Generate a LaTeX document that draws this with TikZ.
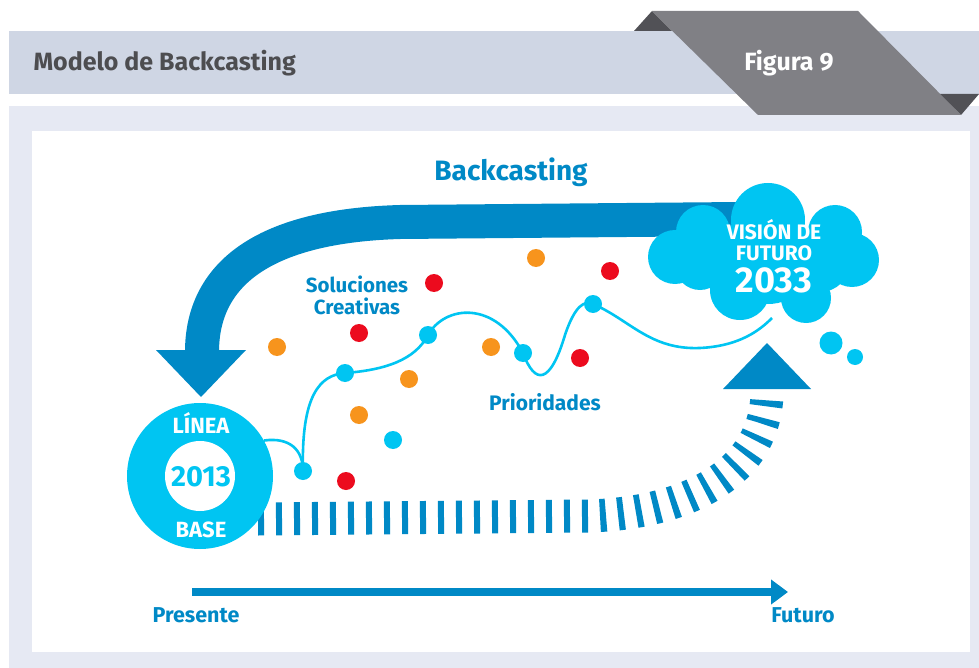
\documentclass[tikz,border=0pt]{standalone}
\usepackage{fontspec}
\setmainfont{Fira Sans}
\usetikzlibrary{positioning,arrows.meta}
\definecolor{bandgrey}{HTML}{CFD6E4}
\definecolor{panelgrey}{HTML}{E6E9F3}
\definecolor{tabgrey}{HTML}{808085}
\definecolor{tabdark}{HTML}{515156}
\definecolor{titlegrey}{HTML}{4D4D50}
\definecolor{deepblue}{HTML}{0089C6}
\definecolor{skyblue}{HTML}{00C5F2}
\definecolor{dotorange}{HTML}{F7941D}
\definecolor{dotred}{HTML}{EC0B1E}
\tikzset{
  blob/.style={circle,fill=#1,inner sep=0pt,minimum size=18pt},
  tag/.style={font=\bfseries\fontsize{#1}{22}\selectfont,text=deepblue,align=center,inner sep=0pt},
  whitetag/.style={font=\bfseries\fontsize{#1}{21}\selectfont,text=white,align=center,inner sep=0pt},
  wave/.style={draw=skyblue,line width=2.6pt},
}

\begin{document}
\begin{tikzpicture}[x=1pt,y=-1pt]
	\useasboundingbox (0,0) rectangle (979,668);
	% frame and header
	\fill[panelgrey] (9,106) rectangle (979,668);
	\fill[white] (32,131) rectangle (970,652);
	\fill[bandgrey] (9,31) rectangle (979,94);
	\fill[tabdark] (634,31) -- (652,11) -- (672,31) -- cycle;
	\fill[tabdark] (939,94) -- (979,94) -- (961,115) -- cycle;
	\fill[tabgrey] (652,11) -- (858,11) -- (961,115) -- (758,115) -- cycle;
	\node[anchor=west,font=\bfseries\fontsize{25}{25}\selectfont,text=titlegrey] (title) at (30,63) {Modelo de Backcasting};
	\node[font=\bfseries\fontsize{25}{25}\selectfont,text=white] (fig) at (789,63) {Figura 9};

	% backcasting arrow
	\coordinate (bandend) at (740,219);
	\coordinate (shaftend) at (202,352);
	\draw[deepblue,line width=34pt] (bandend) -- (400,222) .. controls (262,226) and (202,275) .. (shaftend);
	\fill[deepblue] (156,350) -- (246,350) -- (201,397) -- cycle;
	\node[tag=28] (back) at (511,172) {Backcasting};

	% dashed path to the future
	\coordinate (dashstart) at (258,519);
	\coordinate (dashend) at (767,391);
	\draw[deepblue,line width=33pt,dash pattern=on 6pt off 12pt] (dashstart) -- (590,516) .. controls (700,512) and (767,465) .. (dashend);
	\fill[deepblue] (723,389) -- (811,389) -- (767,343) -- cycle;

	% dots
	\node[blob=skyblue] (p1) at (303,471) {};
	\node[blob=skyblue] (p2) at (345,373) {};
	\node[blob=skyblue] (p3) at (428,335) {};
	\node[blob=skyblue] (p4) at (523,353) {};
	\node[blob=skyblue] (p5) at (593,304) {};
	\node[blob=skyblue] (p6) at (393,440) {};
	\node[blob=dotorange] (o1) at (277,347) {};
	\node[blob=dotorange] (o2) at (409,379) {};
	\node[blob=dotorange] (o3) at (491,347) {};
	\node[blob=dotorange] (o4) at (359,415) {};
	\node[blob=dotorange] (o5) at (536,258) {};
	\node[blob=dotred] (r1) at (434,283) {};
	\node[blob=dotred] (r2) at (359,333) {};
	\node[blob=dotred] (r3) at (610,271) {};
	\node[blob=dotred] (r4) at (580,358) {};
	\node[blob=dotred] (r5) at (346,481) {};

	% cloud
	\coordinate (vision) at (768,256);
	\begin{scope}[skyblue]
		\fill (675,257) circle (27);
		\fill (703,232) circle (27);
		\fill (768,220) circle (37);
		\fill (835,232) circle (27);
		\fill (852,260) circle (27);
		\fill (806,298) circle (25);
		\fill (740,290) circle (30);
		\fill (700,265) circle (25);
		\fill (vision) circle (48);
		\fill (820,262) circle (30);
		\fill (831,343) circle (11.5);
		\fill (855,357) circle (8);
	\end{scope}
	\node[whitetag=21] (v1) at (774,240) {VISIÓN DE\\FUTURO};
	\node[whitetag=36] (v3) at (774,280) {2033};

	% base line circle
	\node[circle,fill=skyblue,minimum size=146pt,inner sep=0pt] (base) at (200,476) {};
	\node[circle,fill=white,minimum size=70pt,inner sep=0pt] (core) at (base) {};
	\node[whitetag=22] (b1) at (201,423) {LÍNEA};
	\node[font=\bfseries\fontsize{29}{29}\selectfont,text=skyblue,inner sep=0pt] (b2) at (201,477) {2013};
	\node[whitetag=22] (b3) at (201,530) {BASE};

	% the winding way
	\draw[wave] (base.29) .. controls (290,437) and (303,450) .. (p1.center);
	\draw[wave] (p1.center) .. controls (301,395) and (320,375) .. (p2.center);
	\draw[wave] (p2.center) .. controls (385,370) and (415,360) .. (p3.center);
	\draw[wave] (p3.center) .. controls (445,305) and (495,300) .. (p4.center);
	\draw[wave] (p4.center) .. controls (535,385) and (550,385) .. (565,335) .. controls (575,305) and (585,300) .. (p5.center);
	\draw[wave] (p5.center) .. controls (630,320) and (650,350) .. (700,348) .. controls (740,346) and (760,330) .. (772,318);

	\node[tag=20.5] (sol) at (357,295) {Soluciones\\Creativas};
	\node[tag=21] (prio) at (545,402) {Prioridades};

	% time axis
	\coordinate (pres) at (192,592);
	\coordinate (fut) at (788,592);
	\draw[deepblue,line width=8pt,-{Triangle[length=17pt,width=24pt]}] (pres) -- (fut);
	\node[tag=21.5] (tp) at (196,615) {Presente};
	\node[tag=21.5] (tf) at (803,615) {Futuro};
\end{tikzpicture}
\end{document}
